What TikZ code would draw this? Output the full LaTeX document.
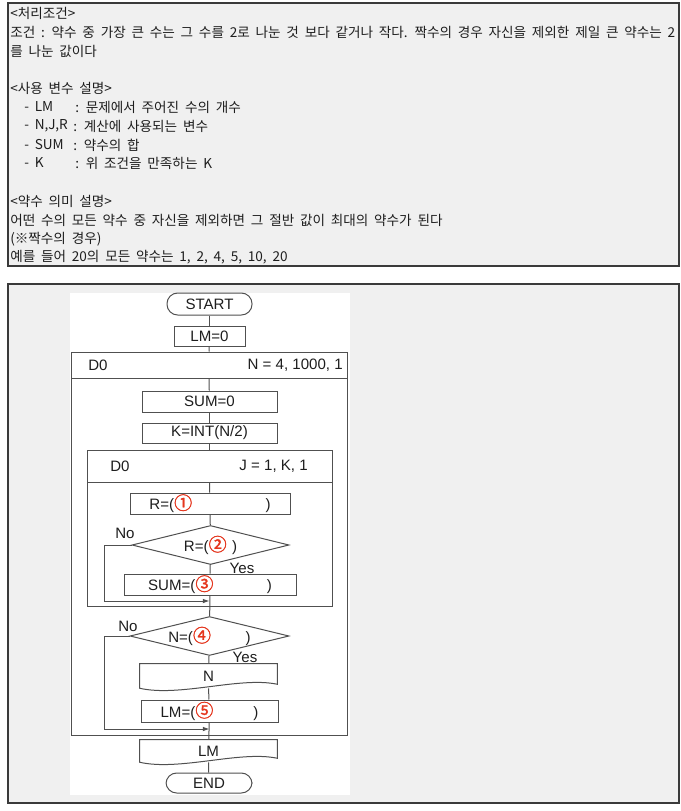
\documentclass[tikz,border=0pt]{standalone}
\usepackage{fontspec}
\setmainfont{Liberation Sans}
\newfontfamily\kr{Noto Sans CJK KR}[WordSpace=1.9]
\newfontfamily\krheavy{Noto Sans CJK KR}[FakeBold=1.6]
\usetikzlibrary{shapes.geometric,calc,arrows.meta}
\definecolor{framebg}{HTML}{F0F0F0}
\definecolor{framec}{HTML}{3A3A3A}
\definecolor{linegray}{HTML}{505050}
\definecolor{textdark}{HTML}{1E1E1E}
\definecolor{numred}{HTML}{E5361E}
\newcommand{\cnum}[1]{\textcolor{numred}{\krheavy\fontsize{13.5}{13}\selectfont #1}}
\tikzset{
  frame/.style={draw=framec, line width=1.1pt, fill=framebg},
  flow/.style={draw=linegray, line width=0.75pt},
  flowtext/.style={font=\fontsize{11.3}{12}\selectfont, text=textdark},
  procbox/.style={flow, flowtext, fill=white, rectangle, inner sep=0pt},
  termbox/.style={procbox, rounded corners=8pt},
  decbox/.style={flow, flowtext, fill=white, diamond, aspect=4, inner sep=0pt},
  docbox/.style={flowtext, rectangle, inner sep=0pt},
  loopbox/.style={flow, rectangle, inner sep=0pt},
  krline/.style={anchor=west, inner sep=0pt, text=textdark, font=\kr\fontsize{10.2}{11}\selectfont},
  backarrow/.style={flow, -{Latex[length=5pt,width=3.5pt]}}
}

\begin{document}
\begin{tikzpicture}[x=0.75pt,y=0.75pt,yscale=-1,xscale=1]
\useasboundingbox (0,0) rectangle (681,811);
% upper frame
\draw[frame] (8,3) rectangle (679,266);
\node[krline] (t0) at (10,13) {<처리조건>};
\node[krline] (t1) at (10,32) {조건 : 약수 중 가장 큰 수는 그 수를 2로 나눈 것 보다 같거나 작다. 짝수의 경우 자신을 제외한 제일 큰 약수는 2};
\node[krline] (t2) at (10,51) {를 나눈 값이다};
\node[krline] (t4) at (10,88) {<사용 변수 설명>};
\node[krline] (v1) at (24,107) {- LM};
\node[krline] (c1) at (75,107) {: 문제에서 주어진 수의 개수};
\node[krline] (v2) at (24,126) {- N,J,R};
\node[krline] (c2) at (73,126) {: 계산에 사용되는 변수};
\node[krline] (v3) at (24,145) {- SUM};
\node[krline] (c3) at (73,145) {: 약수의 합};
\node[krline] (v4) at (24,163) {- K};
\node[krline] (c4) at (75,163) {: 위 조건을 만족하는 K};
\node[krline] (t10) at (10,201) {<약수 의미 설명>};
\node[krline] (t11) at (10,220) {어떤 수의 모든 약수 중 자신을 제외하면 그 절반 값이 최대의 약수가 된다};
\node[krline] (t12) at (10,239) {(※짝수의 경우)};
\node[krline] (t13) at (10,257) {예를 들어 20의 모든 약수는 1, 2, 4, 5, 10, 20};
% lower frame
\draw[frame] (8,284) rectangle (679,803);
\fill[white] (70,293) rectangle (350,795);
% loop boxes
\node[loopbox, minimum width=207pt, minimum height=287.25pt] (outer) at (209,543.5) {};
\node[loopbox, minimum width=207pt, minimum height=19.5pt] (outerhead) at (209,365) {};
\node[flowtext, anchor=west, inner sep=0pt] (outerdo) at (88,365) {D0};
\node[flowtext, anchor=east, inner sep=0pt] (outerrange) at (343,365) {N = 4, 1000, 1};
\node[loopbox, minimum width=183.75pt, minimum height=117pt] (inner) at (209.5,528) {};
\node[loopbox, minimum width=183.75pt, minimum height=24pt] (innerhead) at (209.5,466) {};
\node[flowtext, anchor=west, inner sep=0pt] (innerdo) at (110,466) {D0};
\node[flowtext, anchor=east, inner sep=0pt] (innerrange) at (308,466) {J = 1, K, 1};
% steps
\node[termbox, minimum width=63.75pt, minimum height=16.5pt] (start) at (209.5,304) {START};
\node[procbox, minimum width=53.25pt, minimum height=15pt] (lm0) at (209.5,336) {LM=0};
\node[procbox, minimum width=101.25pt, minimum height=15.75pt] (sum0) at (209.5,401.5) {SUM=0};
\node[procbox, minimum width=101.25pt, minimum height=15pt] (kint) at (209.5,433) {K=INT(N/2)};
\node[procbox, minimum width=120pt, minimum height=15.75pt] (r1) at (210,503.5) {R=(\cnum{①}\hspace{55pt})};
\node[decbox, minimum width=117.75pt, minimum height=29.25pt] (d2) at (210.5,545) {R=(\cnum{②}\hspace{4pt})};
\node[procbox, minimum width=129pt, minimum height=15.75pt] (sum3) at (210,584.5) {SUM=(\cnum{③}\hspace{40pt})};
\node[decbox, minimum width=119.25pt, minimum height=28.5pt] (d4) at (209.5,636) {N=(\cnum{④}\hspace{26pt})};
\node[docbox, minimum width=102.75pt, minimum height=18pt] (nout) at (208.5,676) {N};
\node[procbox, minimum width=102.75pt, minimum height=16.5pt] (lm5) at (209.5,711) {LM=(\cnum{⑤}\hspace{30pt})};
\node[docbox, minimum width=102.75pt, minimum height=16.5pt] (lmout) at (208.5,751) {LM};
\node[termbox, minimum width=64.5pt, minimum height=15pt] (end) at (209,783) {END};
% document shapes
\draw[flow] (nout.north west) -- (nout.north east) -- ($(nout.south east)+(0,-4)$) .. controls ($(nout.south east)+(-37,-12)$) and ($(nout.south west)+(40,9)$) .. (nout.south west) -- cycle;
\draw[flow] (lmout.north west) -- (lmout.north east) -- ($(lmout.south east)+(0,-4)$) .. controls ($(lmout.south east)+(-37,-12)$) and ($(lmout.south west)+(40,9)$) .. (lmout.south west) -- cycle;
% labels
\node[flowtext] (no2) at (125,533) {No};
\node[flowtext] (yes2) at (242,568) {Yes};
\node[flowtext] (no4) at (128,626) {No};
\node[flowtext] (yes4) at (245,657) {Yes};
% connectors
\draw[flow] (start) -- (lm0);
\draw[flow] (lm0) -- (outer.north);
\draw[flow] (outerhead.south) -- (sum0);
\draw[flow] (sum0) -- (kint);
\draw[flow] (kint) -- (inner.north);
\draw[flow] (innerhead.south) -- (r1);
\draw[flow] (r1) -- (d2);
\draw[flow] (d2) -- (sum3);
\draw[flow] (sum3) -- (d4);
\draw[flow] (d4) -- (nout);
\draw[flow] (nout.south) -- (lm5);
\draw[flow] (lm5) -- (lmout);
\draw[flow] (lmout.south) -- (end);
\coordinate (join2) at (209.5,601);
\coordinate (join4) at (209.5,729);
\draw[backarrow] (d2.west) -- ++(-27,0) |- (join2);
\draw[backarrow] (d4.west) -- ++(-25,0) |- (join4);
\end{tikzpicture}
\end{document}
